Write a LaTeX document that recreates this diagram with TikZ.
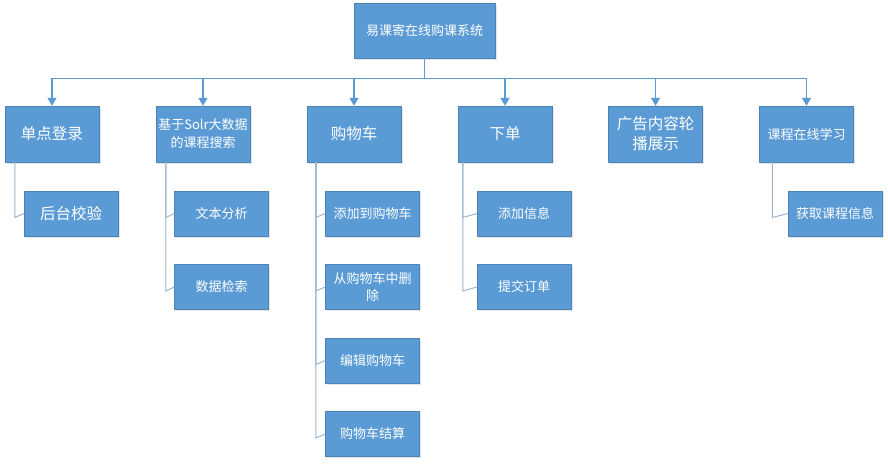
\documentclass[tikz,border=0pt]{standalone}
\usepackage{fontspec}
\setmainfont{Noto Sans CJK SC}
\usetikzlibrary{arrows.meta,calc}
\definecolor{boxblue}{HTML}{5B9BD5}
\definecolor{arrblue}{HTML}{5B9BD5}
\definecolor{subline}{HTML}{9DB4CE}
\tikzset{
  x=1pt,y=1pt,
  boxbase/.style={fill=boxblue,draw=boxblue!85!black,line width=0.4pt,text=white,align=center,inner sep=1pt},
  rootbox/.style={boxbase,minimum width=141,minimum height=55,font=\fontsize{13}{16}\selectfont,text width=135},
  lvbig/.style={boxbase,minimum width=94,minimum height=56,font=\fontsize{15.5}{20}\selectfont,text width=88},
  lvsmall/.style={boxbase,minimum width=94,minimum height=56,font=\fontsize{13}{18}\selectfont,text width=92},
  child/.style={boxbase,minimum width=94,minimum height=45,font=\fontsize{13}{17}\selectfont,text width=90},
  childbig/.style={boxbase,minimum width=94,minimum height=45,font=\fontsize{15.5}{20}\selectfont,text width=90},
  conn/.style={draw=arrblue,line width=1.3pt},
  arr/.style={conn,-{Triangle[width=9pt,length=8pt]}},
  sub/.style={draw=subline,line width=1pt}
}
\begin{document}
\begin{tikzpicture}
\useasboundingbox (0,0) rectangle (888,-464);
% shadows
\foreach \cx/\cy/\w/\h in {424.5/-30.5/141/55,
  52/-134/94/56, 203/-134/94/56, 354/-134/94/56, 505/-134/94/56, 655.5/-134/94/56, 806.5/-134/94/56,
  71/-213.5/94/45, 221.5/-213.5/94/45, 221.5/-287/94/45,
  372.5/-213.5/94/45, 372.5/-287/94/45, 372.5/-360.5/94/45, 372.5/-434/94/45,
  524/-213.5/94/45, 524/-287/94/45, 835/-213.5/94/45}
  \fill[black!10] (\cx-\w/2+1.5,\cy-\h/2-1.5) rectangle (\cx+\w/2+1.5,\cy+\h/2-1.5);

\node[rootbox] (root) at (424.5,-30.5) {易课寄在线购课系统};

\node[lvbig]   (a) at (52,-134)    {单点登录};
\node[lvsmall] (b) at (203,-134)   {基于Solr大数据\\的课程搜索};
\node[lvbig]   (c) at (354,-134)   {购物车};
\node[lvbig]   (d) at (505,-134)   {下单};
\node[lvbig]   (e) at (655.5,-134) {广告内容轮\\播展示};
\node[lvsmall] (f) at (806.5,-134) {课程在线学习};

\node[childbig] (a1) at (71,-213.5) {后台校验};
\node[child] (b1) at (221.5,-213.5) {文本分析};
\node[child] (b2) at (221.5,-287)   {数据检索};
\node[child] (c1) at (372.5,-213.5) {添加到购物车};
\node[child] (c2) at (372.5,-287)   {从购物车中删\\除};
\node[child] (c3) at (372.5,-360.5) {编辑购物车};
\node[child] (c4) at (372.5,-434)   {购物车结算};
\node[child] (d1) at (524,-213.5)   {添加信息};
\node[child] (d2) at (524,-287)     {提交订单};
\node[child] (f1) at (835,-213.5)   {获取课程信息};

% bus
\draw[conn] (root.south) -- ++(0,-20) coordinate (bus);
\draw[conn] (a.north |- bus) -- (f.north |- bus);
\foreach \n in {a,b,c,d,e,f}
  \draw[arr] (\n.north |- bus) -- (\n.north);

% sub connectors
\foreach \p/\ch/\dx in {a/a1/10, b/b1/10, b/b2/10, c/c1/9, c/c2/9, c/c3/9, c/c4/9, d/d1/5, d/d2/5, f/f1/13}
  \draw[sub] ($(\p.south west)+(\dx,0)$) -- ($(\p.south west |- \ch.west)+(\dx,-4)$) -- (\ch.west);
\end{tikzpicture}
\end{document}
